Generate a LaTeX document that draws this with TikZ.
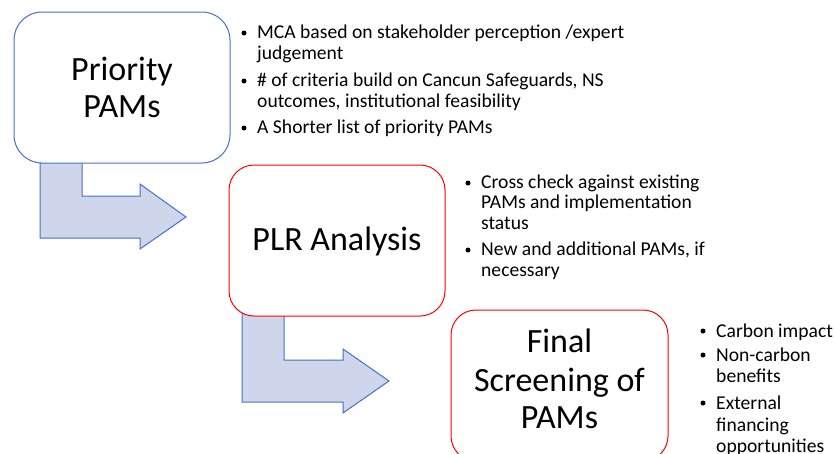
\documentclass[tikz,border=0pt]{standalone}
\usepackage{fontspec}
\setmainfont{Carlito}
\definecolor{bstroke}{HTML}{4472C4}
\definecolor{bfill}{HTML}{CFD5EA}
\definecolor{rstroke}{HTML}{FF0000}
\tikzset{
  bluebox/.style={draw=bstroke, line width=1pt, fill=white, rounded corners=28pt},
  redbox/.style={draw=rstroke, line width=1pt, fill=white, rounded corners=25pt},
  bentarrow/.style={draw=bstroke, line width=1pt, fill=bfill, line join=miter},
  title/.style={anchor=base, inner sep=0pt, font=\fontsize{34}{38}\selectfont},
  lsta/.style={anchor=base west, inner sep=0pt, font=\fontsize{19.6}{20}\selectfont},
  dot/.style={circle, fill=black, inner sep=0pt, minimum size=5pt}
}
\begin{document}
\begin{tikzpicture}[x=1pt,y=-1pt]
\useasboundingbox (0,0) rectangle (834,453);
\clip (0,0) rectangle (834,453);
% bent arrows (drawn first, stems hidden under boxes)
\draw[bentarrow] (40,150) -- (82,150) -- (82,196) -- (140,196) -- (140,184) -- (186,217) -- (140,249) -- (140,238) -- (40,238) -- cycle;
\draw[bentarrow] (242,300) -- (284,300) -- (284,360) -- (343,360) -- (343,349) -- (389,381) -- (343,413) -- (343,402) -- (242,402) -- cycle;
% boxes
\draw[bluebox] (14,12) rectangle (230,163);
\draw[redbox] (229,165) rectangle (445,316);
\draw[redbox] (451,310) rectangle (668,461);
% titles
\node[title] (t1a) at (122,80) {Priority};
\node[title] (t1b) at (122,117) {PAMs};
\node[title] (t2) at (337,250) {PLR Analysis};
\node[title] (t3a) at (559.5,352) {Final};
\node[title] (t3b) at (559.5,391) {Screening of};
\node[title] (t3c) at (559.5,428) {PAMs};
% list 1
\node[dot] (b1a) at (244,33) {};
\node[lsta] (l1a) at (257,38.5) {MCA based on stakeholder perception /expert};
\node[lsta] (l1b) at (257,59) {judgement};
\node[dot] (b1b) at (244,81) {};
\node[lsta] (l1c) at (257,86.5) {\# of criteria build on Cancun Safeguards, NS};
\node[lsta] (l1d) at (257,107) {outcomes, institutional feasibility};
\node[dot] (b1c) at (244,128) {};
\node[lsta] (l1e) at (257,133.5) {A Shorter list of priority PAMs};
% list 2
\node[dot] (b2a) at (468,183) {};
\node[lsta] (l2a) at (481,188.5) {Cross check against existing};
\node[lsta] (l2b) at (481,208.5) {PAMs and implementation};
\node[lsta] (l2c) at (481,229) {status};
\node[dot] (b2b) at (468,250) {};
\node[lsta] (l2d) at (481,255.5) {New and additional PAMs, if};
\node[lsta] (l2e) at (481,276) {necessary};
% list 3
\node[dot] (b3a) at (703,331) {};
\node[lsta] (l3a) at (716,337) {Carbon impact};
\node[dot] (b3b) at (703,355) {};
\node[lsta] (l3b) at (716,361) {Non-carbon};
\node[lsta] (l3c) at (716,382) {benefits};
\node[dot] (b3c) at (703,403) {};
\node[lsta] (l3d) at (716,409) {External};
\node[lsta] (l3e) at (716,431) {financing};
\node[lsta] (l3f) at (716,452) {opportunities};
\end{tikzpicture}
\end{document}
